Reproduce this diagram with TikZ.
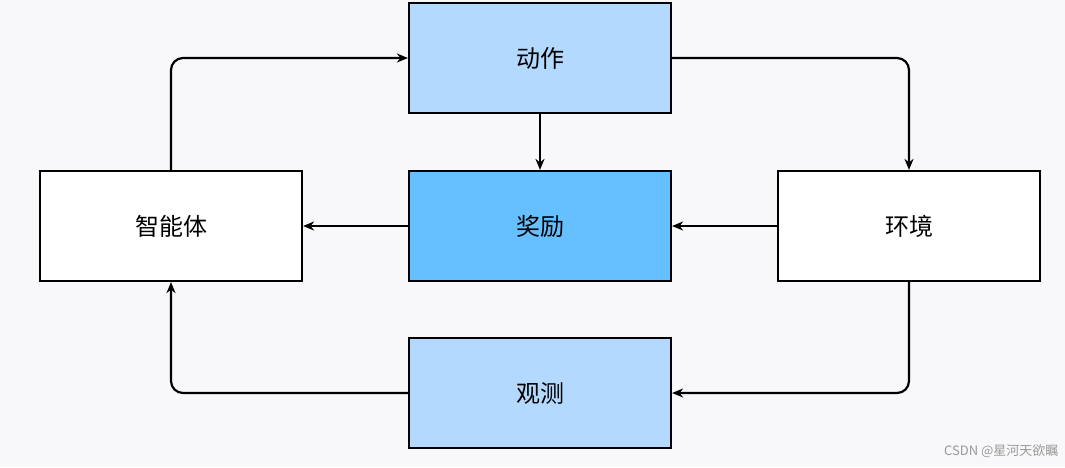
\documentclass[tikz,border=0pt]{standalone}
\usepackage{fontspec}
\setmainfont{Noto Sans CJK SC}
\usetikzlibrary{arrows.meta}
\definecolor{bg}{HTML}{F8F8FA}
\definecolor{lb}{HTML}{B3D9FF}
\definecolor{db}{HTML}{66BFFF}
\begin{document}
\begin{tikzpicture}[x=1pt,y=-1pt,
  box/.style={draw=black,line width=2.2pt,minimum width=262pt,minimum height=110pt,inner sep=0pt,font=\fontsize{24}{28}\selectfont},
  arr/.style={line width=2.2pt,-{Stealth[length=11pt,width=9pt]},rounded corners=12pt}]
\fill[bg] (0,0) rectangle (1065,467);
\useasboundingbox (0,0) rectangle (1065,467);
\node[box,fill=lb] (act) at (540,58) {动作};
\node[box,fill=db] (rew) at (540,226) {奖励};
\node[box,fill=lb] (obs) at (540,393) {观测};
\node[box,fill=white] (agt) at (171,226) {智能体};
\node[box,fill=white] (env) at (909,226) {环境};
\draw[arr] (agt.north) |- (act.west);
\draw[arr] (act.east) -| (env.north);
\draw[arr] (act.south) -- (rew.north);
\draw[arr] (env.west) -- (rew.east);
\draw[arr] (rew.west) -- (agt.east);
\draw[arr] (env.south) |- (obs.east);
\draw[arr] (obs.west) -| (agt.south);
\node[text=gray!80,font=\fontsize{13}{15}\selectfont,anchor=east] (wm) at (1062,451) {CSDN @星河天欲瞩};
\end{tikzpicture}
\end{document}
